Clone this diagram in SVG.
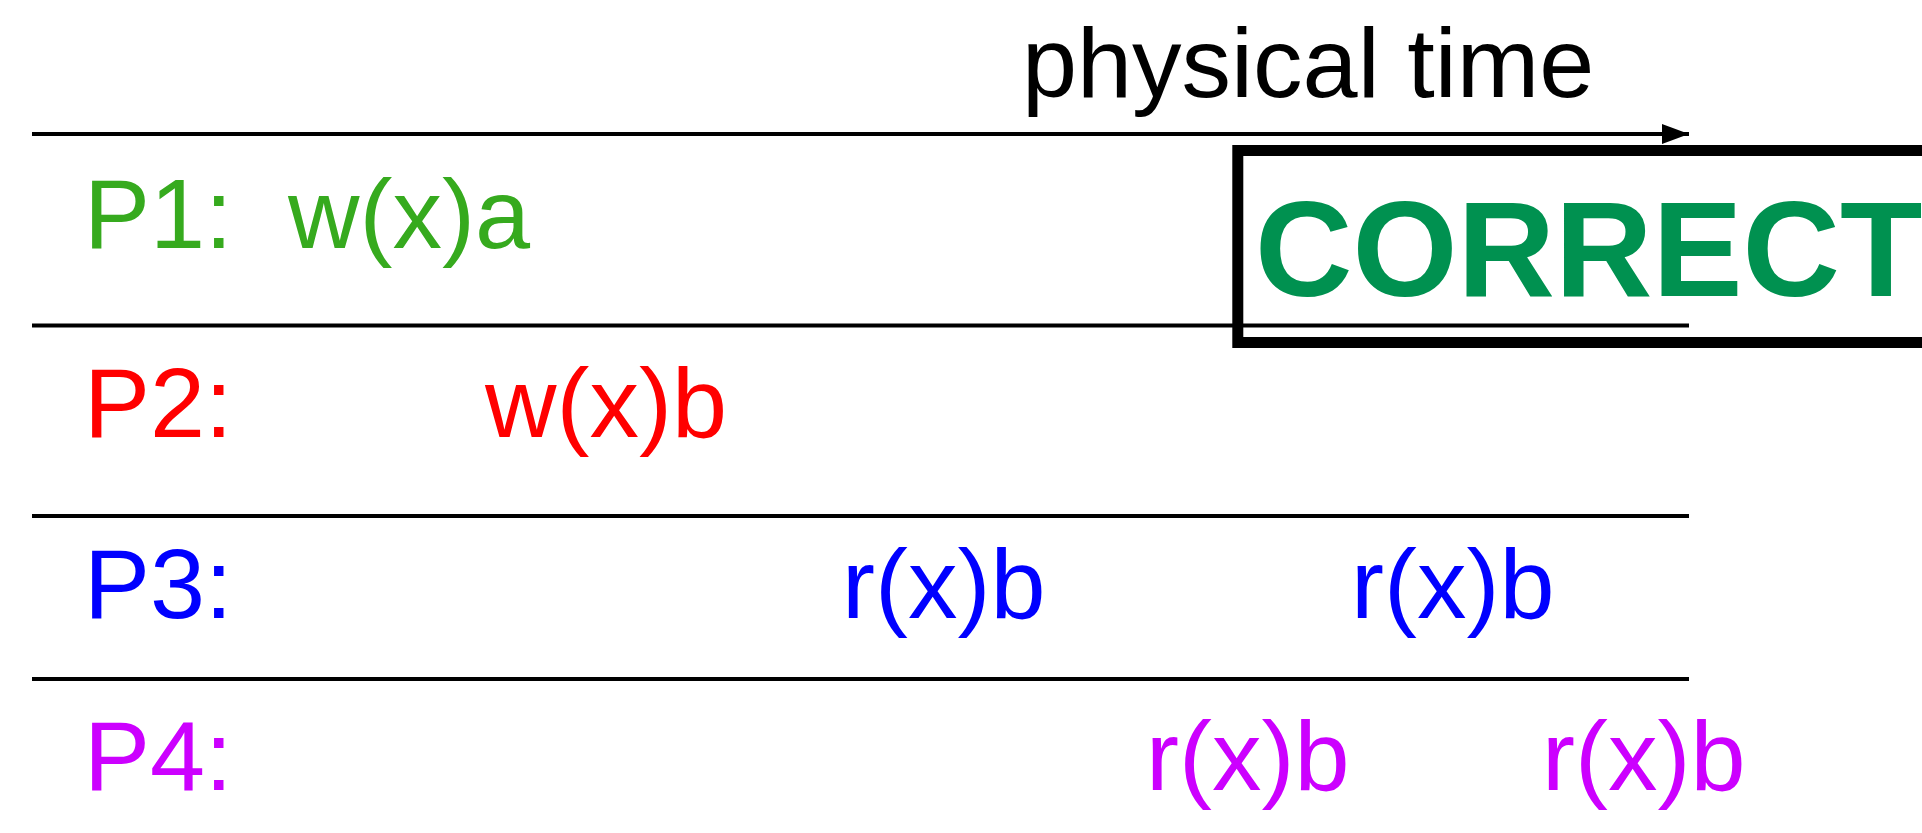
<svg xmlns="http://www.w3.org/2000/svg" width="1922" height="833" viewBox="0 0 1922 833">
<style>
text{font-family:"Liberation Sans",Arial,sans-serif;font-size:99px}
.ln{stroke:#000;stroke-width:4;fill:none}
.p1{fill:#36AA1E}.p2{fill:#FF0000}.p3{fill:#0000FF}.p4{fill:#CC00FF}
</style>
<defs>
<marker id="ah" markerUnits="userSpaceOnUse" markerWidth="27" markerHeight="20" refX="27" refY="10" orient="auto">
<path d="M0,0 L27,10 L0,20 Z" fill="#000"/>
</marker>
</defs>
<rect width="1922" height="833" fill="#fff"/>
<g id="connectors">
<line class="ln" x1="32" y1="134" x2="1689" y2="134" marker-end="url(#ah)"/>
<line class="ln" x1="32" y1="325.5" x2="1689" y2="325.5"/>
<line class="ln" x1="32" y1="516" x2="1689" y2="516"/>
<line class="ln" x1="32" y1="679" x2="1689" y2="679"/>
</g>
<g id="title"><text x="1022" y="97">physical time</text></g>
<g id="p1"><text class="p1" x="84" y="248">P1:</text><text class="p1" x="288" y="248">w(x)a</text></g>
<g id="p2"><text class="p2" x="84" y="437">P2:</text><text class="p2" x="485" y="437">w(x)b</text></g>
<g id="p3"><text class="p3" x="84" y="618">P3:</text><text class="p3" x="842" y="618">r(x)b</text><text class="p3" x="1351" y="618">r(x)b</text></g>
<g id="p4"><text class="p4" x="84" y="790">P4:</text><text class="p4" x="1146" y="790">r(x)b</text><text class="p4" x="1542" y="790">r(x)b</text></g>
<g id="correct">
<rect x="1237.8" y="150.5" width="720" height="192" fill="none" stroke="#000" stroke-width="11"/>
<text x="1255" y="296" style="font-weight:bold;font-size:135px;fill:#009150">CORRECT</text>
</g>
</svg>
